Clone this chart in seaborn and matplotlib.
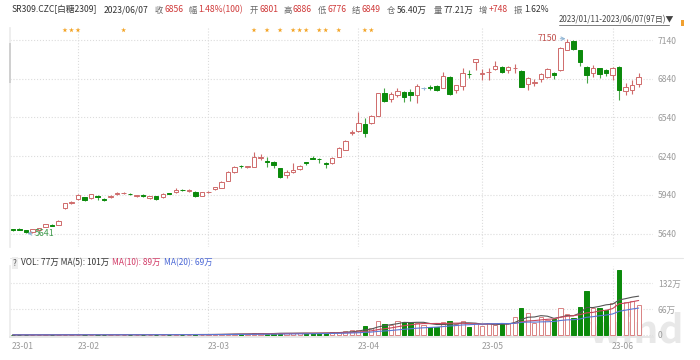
import numpy as np
import pandas as pd
import matplotlib.pyplot as plt
import matplotlib.transforms as mtransforms
from matplotlib.lines import Line2D
from matplotlib.patches import Rectangle
import seaborn as sns

# SR309 daily bars, 2023/01/11 - 2023/06/07 (97 trading days)
opens = [5672, 5673, 5668, 5652, 5668, 5693, 5706, 5709, 5838, 5880,
         5905, 5921, 5912, 5931, 5908, 5922, 5948, 5954, 5950, 5935,
         5938, 5914, 5930, 5921, 5955, 5960, 5980, 5970, 5964, 5934,
         5960, 5983, 5997, 6050, 6115, 6165, 6156, 6158, 6226, 6200,
         6192, 6145, 6096, 6118, 6140, 6192, 6225, 6220, 6186, 6184,
         6236, 6290, 6418, 6432, 6489, 6496, 6552, 6727, 6680, 6714,
         6740, 6734, 6714, 6765, 6772, 6786, 6770, 6855, 6752, 6780,
         6878, 6968, 6878, 6890, 6916, 6933, 6908, 6922, 6902, 6797,
         6808, 6838, 6856, 6881, 6907, 7065, 7132, 7062, 6933, 6882,
         6920, 6907, 6870, 6932, 6746, 6752, 6801]
highs = [5676, 5681, 5671, 5676, 5685, 5714, 5712, 5745, 5878, 5895,
         5948, 5926, 5948, 5936, 5912, 5940, 5960, 5966, 5955, 5940,
         5946, 5935, 5934, 5953, 5958, 5990, 5985, 5982, 5968, 5966,
         5970, 6002, 6044, 6122, 6160, 6175, 6166, 6275, 6253, 6236,
         6200, 6150, 6132, 6184, 6168, 6198, 6245, 6225, 6195, 6232,
         6310, 6362, 6442, 6580, 6533, 6560, 6730, 6765, 6740, 6765,
         6745, 6758, 6800, 6778, 6790, 6790, 6894, 6860, 6795, 6925,
         6907, 6994, 6912, 6920, 6977, 6940, 6940, 6951, 6906, 6855,
         6835, 6884, 6925, 6894, 7084, 7150, 7140, 7066, 6940, 6946,
         6925, 6915, 6928, 6940, 6804, 6830, 6886]
lows = [5660, 5664, 5641, 5648, 5662, 5688, 5696, 5705, 5830, 5872,
        5900, 5896, 5908, 5900, 5894, 5916, 5940, 5946, 5940, 5924,
        5924, 5905, 5902, 5918, 5945, 5955, 5970, 5965, 5922, 5930,
        5955, 5978, 5992, 6045, 6110, 6150, 6150, 6155, 6210, 6158,
        6145, 6070, 6068, 6112, 6135, 6175, 6215, 6184, 6145, 6180,
        6232, 6286, 6404, 6428, 6391, 6490, 6548, 6662, 6662, 6696,
        6662, 6670, 6650, 6752, 6752, 6745, 6765, 6715, 6727, 6752,
        6843, 6907, 6830, 6830, 6907, 6885, 6881, 6881, 6775, 6752,
        6786, 6817, 6848, 6835, 6903, 7060, 7065, 6940, 6804, 6855,
        6843, 6860, 6830, 6675, 6714, 6720, 6776]
closes = [5666, 5670, 5652, 5672, 5680, 5712, 5702, 5740, 5874, 5885,
          5938, 5900, 5944, 5921, 5904, 5935, 5952, 5958, 5945, 5937,
          5928, 5928, 5906, 5950, 5950, 5980, 5976, 5974, 5928, 5962,
          5966, 5998, 6040, 6118, 6156, 6160, 6160, 6236, 6230, 6195,
          6170, 6082, 6118, 6136, 6162, 6184, 6220, 6216, 6182, 6228,
          6306, 6358, 6430, 6494, 6422, 6550, 6726, 6670, 6725, 6746,
          6696, 6710, 6784, 6765, 6768, 6754, 6862, 6720, 6790, 6885,
          6874, 6990, 6882, 6894, 6937, 6890, 6927, 6926, 6778, 6847,
          6813, 6880, 6912, 6868, 7080, 7122, 7070, 6968, 6868, 6924,
          6875, 6882, 6920, 6752, 6778, 6790, 6856]
# volume in 万手
volumes = [0.3, 0.4, 0.3, 0.4, 0.5, 0.5, 0.4, 0.6, 1.0, 0.7,
           0.8, 0.6, 0.9, 0.7, 0.6, 0.7, 0.8, 0.9, 0.7, 0.8,
           0.9, 1.0, 1.2, 1.1, 0.9, 1.3, 1.0, 1.1, 1.5, 1.2,
           1.4, 1.8, 2.2, 3.0, 3.2, 2.8, 2.5, 4.5, 3.8, 3.5,
           4.2, 6.0, 4.8, 4.0, 4.5, 4.8, 5.0, 5.5, 5.2, 6.5,
           8.0, 9.5, 12, 12.7, 23.7, 17, 36.4, 28, 25.4, 36.4,
           33.9, 33.9, 31.3, 25.4, 21.2, 21.2, 33.9, 35.6, 28, 35.6,
           21, 29.6, 22.9, 31.3, 25.4, 28, 29.6, 44.9, 67.7, 55,
           31.3, 46.6, 38, 40.6, 69.3, 52.5, 44, 72, 112, 67.7,
           67.7, 63.5, 80.4, 165, 84.7, 86.4, 76.2]
holidays = ['2023-01-23', '2023-01-24', '2023-01-25', '2023-01-26', '2023-01-27',
            '2023-04-05', '2023-05-01', '2023-05-02', '2023-05-03']
star_days = [8, 9, 10, 17, 37, 39, 41, 43, 44, 45, 47, 48, 50, 54, 55]
price_ticks = [5640, 5940, 6240, 6540, 6840, 7140]
vol_ticks = [0, 66, 132]
vol_tick_labels = ['0', '66万', '132万']

dates = pd.bdate_range('2023-01-11', '2023-06-07')
dates = dates[~dates.isin(pd.to_datetime(holidays))]
df = pd.DataFrame({'date': dates, 'open': opens, 'high': highs, 'low': lows,
                   'close': closes, 'vol': volumes})
df['idx'] = np.arange(len(df))
df['ma5'] = df.vol.rolling(5, min_periods=1).mean()
df['ma10'] = df.vol.rolling(10, min_periods=1).mean()
df['ma20'] = df.vol.rolling(20, min_periods=1).mean()
month_starts = df.groupby(df.date.dt.to_period('M')).idx.first()

UP = '#cf6b6b'
DOWN = '#0b8a0b'
DOWN_WICK = '#46a546'
DOJI = '#8fb4d4'
GRID = '#dcdcdc'
LBL = '#9a9a9a'

sns.set_theme(style='white')
plt.rcParams['font.family'] = ['Noto Sans CJK SC', 'DejaVu Sans']

W, H = 700, 360
fig = plt.figure(figsize=(7, 3.6), dpi=100)
fx = lambda px: px / W
fy = lambda py: 1 - py / H

ax = fig.add_axes([fx(10), fy(247), fx(643), 219 / H])
vax = fig.add_axes([fx(10), fy(337), fx(643), 71 / H])

# candle colours
up = df.close > df.open
dn = df.close < df.open
body_face = np.where(up, 'white', np.where(dn, DOWN, 'white'))
body_edge = np.where(up, UP, np.where(dn, DOWN, DOJI))
wick_col = np.where(up, UP, np.where(dn, DOWN_WICK, DOJI))

ax.vlines(df.idx, df.low, df.high, colors=wick_col, lw=0.8, zorder=2)
ax.bar(df.idx, (df.close - df.open).abs(), bottom=df[['open', 'close']].min(axis=1),
       width=0.68, color=body_face, edgecolor=body_edge, linewidth=0.7, zorder=3)

# stars row
trans = mtransforms.blended_transform_factory(ax.transData, ax.transAxes)
sns.scatterplot(x=star_days, y=[0.99] * len(star_days), ax=ax, marker='*', s=14,
                color='#f3a221', edgecolor='none', transform=trans, zorder=4, clip_on=False)

ax.annotate(f'{max(highs)}', xy=(int(np.argmax(highs)), max(highs)), xytext=(-10, 0),
            textcoords='offset pixels', ha='right', va='center', fontsize=6.3, color='#c0504d',
            arrowprops=dict(arrowstyle='->', color=DOJI, lw=0.7, shrinkA=0, shrinkB=1))
ax.annotate(f'{min(lows)}', xy=(int(np.argmin(lows)), min(lows)), xytext=(9, 0),
            textcoords='offset pixels', ha='left', va='center', fontsize=6.3, color='#3d9a4a',
            arrowprops=dict(arrowstyle='->', color=DOJI, lw=0.7, shrinkA=0, shrinkB=1))

ax.set_xlim(-0.43, 98.2)
ax.set_ylim(5536, 7233)
ax.set_xticks([])
ax.yaxis.tick_right()
ax.set_yticks(price_ticks)
ax.tick_params(axis='y', length=0, pad=3.5, labelsize=6.2, labelcolor=LBL)
ax.grid(axis='y', ls=':', color=GRID, lw=0.8)
for m in month_starts.iloc[1:]:
    ax.axvline(m, ls=':', color=GRID, lw=0.8, zorder=0)
for s in ['top', 'right', 'bottom']:
    ax.spines[s].set_visible(False)
ax.spines['left'].set_color('#ececec')
ax.set_xlabel('')
ax.set_ylabel('')

# volume panel
vax.set_facecolor('none')
vax.bar(df.idx, df.vol, width=0.65, color=np.where(dn, DOWN, 'white'),
        edgecolor=np.where(dn, DOWN, '#d98383'), linewidth=0.7, zorder=2)
sns.lineplot(x=df.idx, y=df.ma5, ax=vax, color='#555555', lw=0.8, zorder=3)
sns.lineplot(x=df.idx, y=df.ma10, ax=vax, color='#c9475c', lw=0.8, zorder=3)
sns.lineplot(x=df.idx, y=df.ma20, ax=vax, color='#5b78d6', lw=0.8, zorder=3)
vax.text(88.3, -0.2, 'wind', transform=mtransforms.blended_transform_factory(vax.transData, vax.transAxes),
         fontsize=28, fontweight='bold', color='#e8e8e8',
         ha='left', va='bottom', zorder=0.5, clip_on=False)
vax.set_xlim(-0.43, 98.2)
vax.set_ylim(-5.1, 175.1)
vax.set_xticks([])
vax.yaxis.tick_right()
vax.set_yticks(vol_ticks)
vax.set_yticklabels(vol_tick_labels)
vax.tick_params(axis='y', length=0, pad=3.5, labelsize=6.2, labelcolor=LBL)
vax.grid(axis='y', ls=':', color=GRID, lw=0.8)
for m in month_starts.iloc[1:]:
    vax.axvline(m, ls=':', color=GRID, lw=0.8, zorder=0)
for s in ['top', 'right']:
    vax.spines[s].set_visible(False)
vax.spines['left'].set_color('#ececec')
vax.spines['bottom'].set_color('#e4e4e4')
vax.set_xlabel('')
vax.set_ylabel('')
vtrans = mtransforms.blended_transform_factory(vax.transData, vax.transAxes)
for m in month_starts:
    vax.text(m - 0.1, -0.07, df.date[m].strftime('%y-%m'), transform=vtrans,
             ha='left', va='top', fontsize=6.2, color=LBL)

# header line: label glyph then value, laid out by measured width
dark, gray, red = '#333333', '#666666', '#d03a3a'
last = df.iloc[-1]
header = [('', 'SR309.CZC[白糖2309]', dark, 12), ('', '2023/06/07', dark, 104),
          ('收', f'{last.close}', red, 155), ('幅', '1.48%(100)', red, 188),
          ('开', f'{last.open}', red, 250), ('高', f'{last.high}', red, 283),
          ('低', f'{last.low}', red, 318), ('结', '6849', red, 352),
          ('仓', '56.40万', dark, 387), ('量', '77.21万', dark, 434),
          ('增', '+748', red, 479), ('振', '1.62%', dark, 514)]
renderer = fig.canvas.get_renderer()
for lab, val, col, x in header:
    if lab:
        t = fig.text(fx(x), fy(10), lab, color=gray, fontsize=6.0, va='center', ha='left')
        x = t.get_window_extent(renderer).x1 + 1.5
    fig.text(fx(x), fy(10), val, color=col, fontsize=6.2, va='center', ha='left')

fig.text(fx(559), fy(19.5), '2023/01/11-2023/06/07(97日)▼', color='#444444',
         fontsize=5.7, va='center', ha='left')
fig.add_artist(Line2D([fx(559), fx(669)], [fy(25), fy(25)], color='#666666', lw=0.6))
fig.add_artist(Rectangle((fx(681), fy(26)), fx(2.5), 6 / H, color='#f0a030', lw=0))
fig.add_artist(Rectangle((fx(9.3), fy(83)), fx(1.6), 40 / H, color='#d0d0d0', lw=0))

# volume header
fig.add_artist(Line2D([fx(10), fx(683)], [fy(258), fy(258)], color='#e6e6e6', lw=0.8))
fig.text(fx(13), fy(263), '?', color='#555555', fontsize=5.8, va='center', ha='left',
         bbox=dict(boxstyle='square,pad=0.15', fc='#eeeeee', ec='none'))
fig.text(fx(21), fy(263), 'VOL: 77万 MA(5): 101万', color=dark, fontsize=6.0, va='center')
fig.text(fx(112), fy(263), 'MA(10): 89万', color='#d23a66', fontsize=6.0, va='center')
fig.text(fx(164), fy(263), 'MA(20): 69万', color='#4a67d6', fontsize=6.0, va='center')

fig.savefig('out.png', dpi=100)
